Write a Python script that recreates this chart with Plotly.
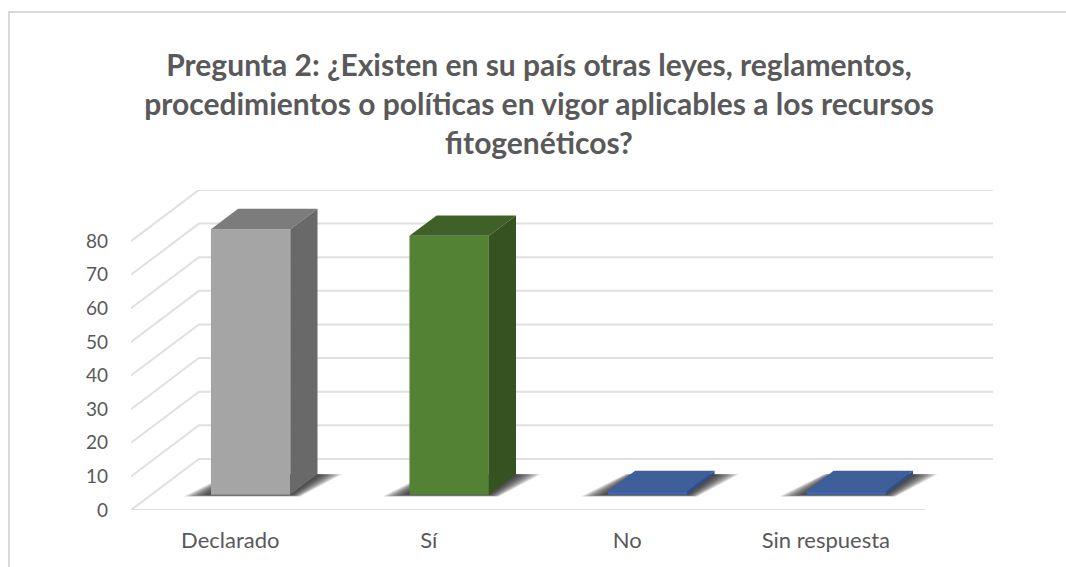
import plotly.graph_objects as go

categories = ["Declarado", "Sí", "No", "Sin respuesta"]
values = [79, 77, 1, 1]
y_ticks = [0, 10, 20, 30, 40, 50, 60, 70, 80]
front_colors = ["#A5A5A5", "#548235", "#3E66B2", "#3E66B2"]
top_colors = ["#7C7C7C", "#3F6128", "#3F5F9B", "#3F5F9B"]
side_colors = ["#696969", "#365220", "#2F4F8A", "#2F4F8A"]
title_lines = [
    "Pregunta 2: ¿Existen en su país otras leyes, reglamentos,",
    "procedimientos o políticas en vigor aplicables a los recursos",
    "fitogenéticos?",
]

# oblique projection of the 3-D box, in axis units
DX, DY = 0.342, 15.2
BAR_W, D0, D1 = 0.40, 0.30, 0.70
L, R, T, B = 131, 73, 190, 57
W, H = 1066, 567
GRID = "#E0E0E0"
TEXT = "#595959"
SHADOW_STEPS = [0.125, 0.118, 0.111, 0.104, 0.097, 0.09, 0.083, 0.076, 0.069, 0.062,
                0.055, 0.048, 0.041, 0.034, 0.027, 0.02, 0.013, 0.006]
SHADOW_FILL = "rgba(40,40,40,0.085)"


def pr(x, v, d):
    return x + d * DX, v + d * DY


def poly(points, color):
    xs, ys = zip(*[pr(*p) for p in points + points[:1]])
    return go.Scatter(x=xs, y=ys, mode="none", fill="toself", fillcolor=color,
                      hoverinfo="skip", showlegend=False, cliponaxis=False)


fig = go.Figure()

for v in y_ticks:
    a = pr(0, v, 0)
    b = pr(0, v, 1)
    c = pr(len(categories), v, 1)
    fig.add_trace(go.Scatter(x=[a[0], b[0], c[0]], y=[a[1], b[1], c[1]], mode="lines",
                             line=dict(color=GRID, width=2), hoverinfo="skip",
                             showlegend=False, cliponaxis=False))
fig.add_trace(go.Scatter(x=[0, len(categories)], y=[0, 0], mode="lines",
                         line=dict(color=GRID, width=2), hoverinfo="skip",
                         showlegend=False, cliponaxis=False))

for i, val in enumerate(values):
    x0 = i + 0.5 - BAR_W / 2
    x1 = i + 0.5 + BAR_W / 2
    # soft floor shadow built from nested translucent parallelograms
    for e in SHADOW_STEPS:
        s = e * 0.3
        fig.add_trace(poly([(x0 - e, 0, D0 - s), (x1 + 0.5 * e, 0, D0 - s),
                            (x1 + e, 0, D1), (x0 - 0.4 * e, 0, D1)], SHADOW_FILL))
    fig.add_trace(poly([(x0, 0, D0), (x1, 0, D0), (x1, val, D0), (x0, val, D0)], front_colors[i]))
    fig.add_trace(poly([(x0, val, D0), (x1, val, D0), (x1, val, D1), (x0, val, D1)], top_colors[i]))
    fig.add_trace(poly([(x1, 0, D0), (x1, 0, D1), (x1, val, D1), (x1, val, D0)], side_colors[i]))

pw, ph = W - L - R, H - T - B
fig.add_shape(type="rect", xref="paper", yref="paper", layer="below",
              x0=(9 - L) / pw, x1=(W + 20 - L) / pw,
              y0=(H - B - (H + 20)) / ph, y1=(H - B - 12) / ph,
              line=dict(color="#D9D9D9", width=2), fillcolor="rgba(0,0,0,0)")

fig.update_layout(
    width=W, height=H,
    margin=dict(l=L, r=R, t=T, b=B, autoexpand=False),
    paper_bgcolor="white", plot_bgcolor="rgba(0,0,0,0)",
    font=dict(family="Lato, Carlito, sans-serif", color=TEXT),
    title=dict(text="<br>".join(title_lines), x=539 / W, xanchor="center", xref="container",
               y=1 - 76 / H, yanchor="top", yref="container",
               font=dict(size=30, color=TEXT, family="Lato, sans-serif", weight="bold")),
    xaxis=dict(range=[0, len(categories) + DX], tickmode="array",
               tickvals=[i + 0.5 for i in range(len(categories))], ticktext=categories,
               showgrid=False, zeroline=False, showline=False, ticks="",
               ticklabelstandoff=15, tickfont=dict(size=22, color=TEXT)),
    yaxis=dict(range=[0, 80 + DY], tickmode="array", tickvals=y_ticks,
               showgrid=False, zeroline=False, showline=False, ticks="",
               ticklabelstandoff=22, tickfont=dict(size=19, color=TEXT)),
    showlegend=False,
)

fig.write_html("out.html", config=dict(displayModeBar=False),
               post_script="document.body.style.margin='0';document.documentElement.style.overflow='hidden';")
